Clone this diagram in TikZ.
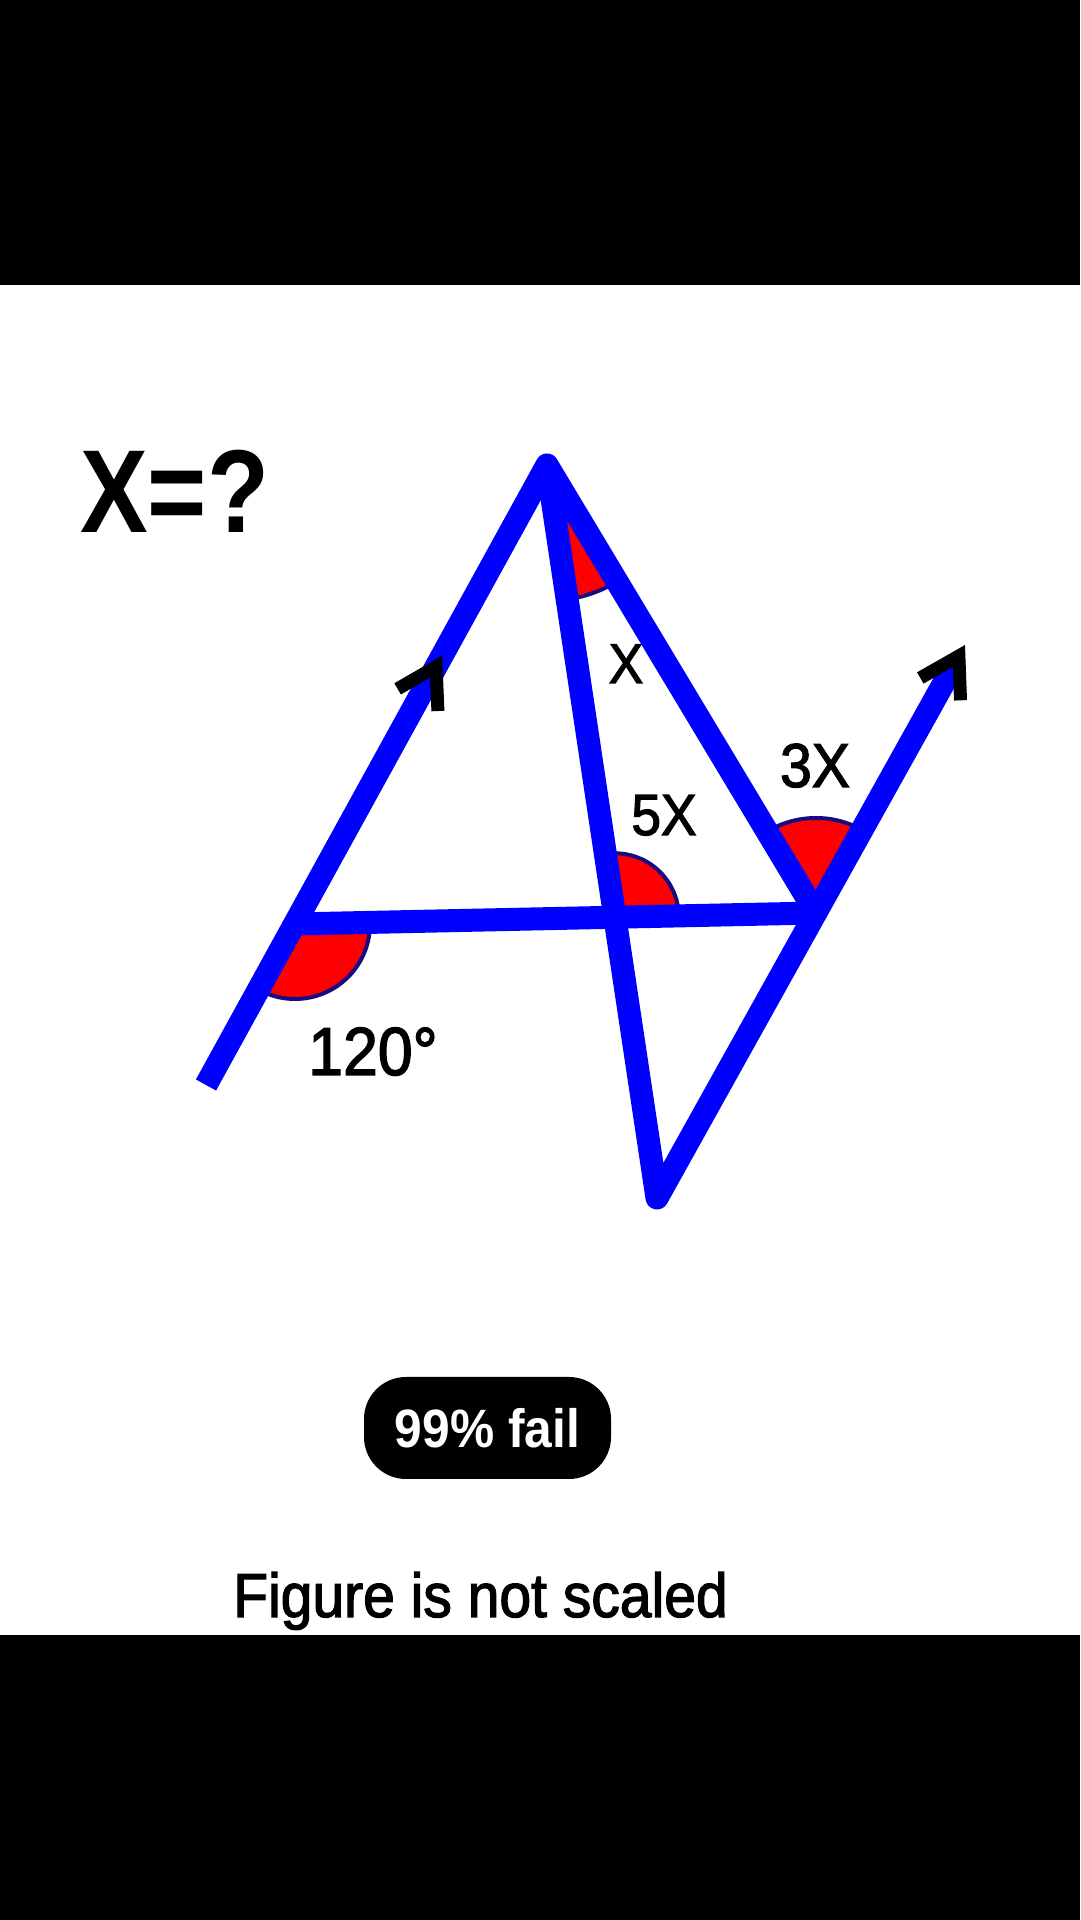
\documentclass[tikz,border=0pt]{standalone}
\usepackage{fontspec}
\setmainfont{Liberation Sans}[FakeStretch=0.92]
\newfontfamily\medfont{Liberation Sans}[FakeStretch=0.92,FakeBold=2]
\newfontfamily\headfont{Liberation Sans}[FakeStretch=0.86]
\usetikzlibrary{arrows.meta,decorations.markings}
\definecolor{rimblue}{RGB}{25,10,130}

\begin{document}
\begin{tikzpicture}[x=1pt,y=1pt,
  >={Straight Barb[color=black,length=38pt,width=46pt,line width'=13pt]},
  wire/.style={draw=blue,line width=23pt,line join=round},
  angmark/.style={fill=red,draw=rimblue,line width=4pt},
  lbl/.style={anchor=base,inner sep=0pt}]
\useasboundingbox (0,0) rectangle (1080,1920);
% Drawing frame
\fill[black] (0,0) rectangle (1080,285);
\fill[white] (0,285) rectangle (1080,1635);
\fill[black] (0,1635) rectangle (1080,1920);
% Points
\coordinate (A) at (547,1455);
\coordinate (E) at (206,835);
\coordinate (B) at (657,722);
\coordinate (V) at (816,1007);
\coordinate (T) at (965,1275);
\coordinate (L) at (295,996);
\coordinate (M) at (intersection of A--B and L--V);
% Drawing angles
\filldraw[angmark] (L) -- ++(-118.9:75) arc[start angle=-118.9,end angle=1.2,radius=75] -- cycle;
\filldraw[angmark] (M) -- ++(1.2:64) arc[start angle=1.2,end angle=98.5,radius=64] -- cycle;
\filldraw[angmark] (V) -- ++(61.1:95) arc[start angle=61.1,end angle=120.8,radius=95] -- cycle;
\filldraw[angmark] (A) -- ++(-81.6:136) arc[start angle=-81.6,end angle=-59.2,radius=136] -- cycle;
% Done with angles; drawing lines
\draw[wire,postaction={decorate},
  decoration={markings,mark=at position 490pt with {\arrow{>}}}] (E) -- (A) -- (V);
\draw[wire,->] (A) -- (B) -- (T);
\draw[wire] (L) -- (V);
% Done with lines; drawing labels
\node[anchor=base west,inner sep=0pt,font=\headfont\bfseries\fontsize{118}{120}\selectfont] (title) at (80,1387) {X=?};
\node[lbl,font=\medfont\fontsize{56}{60}\selectfont] (xlab) at (626,1237) {X};
\node[lbl,font=\medfont\fontsize{58}{60}\selectfont] (fivex) at (664,1085) {5X};
\node[lbl,font=\medfont\fontsize{62}{64}\selectfont] (threex) at (815,1133) {3X};
\node[lbl,font=\medfont\fontsize{68}{70}\selectfont] (given) at (373,845) {120°};
\node[fill=black,text=white,rounded corners=42pt,minimum width=247pt,minimum height=102pt,
  font=\bfseries\fontsize{54}{60}\selectfont] (badge) at (487.5,492) {99\% fail};
\node[lbl,font=\medfont\fontsize{62}{70}\selectfont] (note) at (480.5,303) {Figure is not scaled};
% Done with labels
\end{tikzpicture}
\end{document}
